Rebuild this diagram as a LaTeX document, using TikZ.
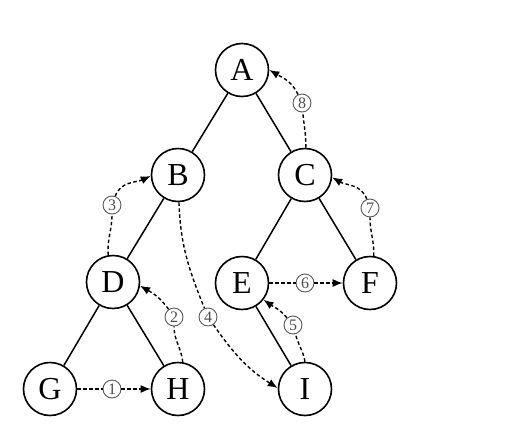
\documentclass[tikz,border=0pt]{standalone}
\usepackage{fontspec}
\setmainfont{Liberation Serif}
\usetikzlibrary{arrows.meta}
\begin{document}
\begin{tikzpicture}[x=1pt,y=-1pt,
  vtx/.style={circle,draw,line width=1.6pt,minimum size=53pt,inner sep=0pt,font=\fontsize{32}{32}\selectfont},
  tree/.style={line width=1.5pt},
  trav/.style={line width=1.4pt,dash pattern=on 3.5pt off 2.5pt,-{Latex[length=10pt,width=8pt]}},
  seg/.style={line width=1.4pt,dash pattern=on 3.5pt off 2.5pt},
  lbl/.style={circle,draw=gray!70!black,line width=0.9pt,fill=white,text=gray!60!black,minimum size=18pt,inner sep=0pt,font=\fontsize{16}{16}\selectfont}]
\useasboundingbox (0,0) rectangle (531,429);
\node[vtx] (A) at (242,70) {A};
\node[vtx] (B) at (178,175) {B};
\node[vtx] (C) at (305,175) {C};
\node[vtx] (D) at (113,282) {D};
\node[vtx] (E) at (242,283) {E};
\node[vtx] (F) at (370,283) {F};
\node[vtx] (G) at (50,389) {G};
\node[vtx] (H) at (178,389) {H};
\node[vtx] (I) at (305,389) {I};
\draw[tree] (A) -- (B);
\draw[tree] (A) -- (C);
\draw[tree] (B) -- (D);
\draw[tree] (C) -- (E);
\draw[tree] (C) -- (F);
\draw[tree] (D) -- (G);
\draw[tree] (D) -- (H);
\draw[tree] (E) -- (I);
\node[lbl] (l1) at (112,389) {1};
\node[lbl] (l2) at (174,317) {2};
\node[lbl] (l3) at (112,205) {3};
\node[lbl] (l4) at (208,317) {4};
\node[lbl] (l5) at (293,325) {5};
\node[lbl] (l6) at (305,283) {6};
\node[lbl] (l7) at (370,208) {7};
\node[lbl] (l8) at (302,103) {8};
% 1
\draw[seg] (G) -- (l1);
\draw[trav] (l1) -- (H);
% 2
\draw[seg] (H.80) to[out=95,in=-90] (l2);
\draw[trav] (l2) to[out=125,in=-30] (D.-8);
% 3
\draw[seg] (D.100) to[out=95,in=-90] (l3);
\draw[trav] (l3) to[out=70,in=205] (B.182);
% 4
\draw[seg] (B.-88) to[out=-88,in=112] (l4);
\draw[trav] (l4) to[out=-55,in=148] (I.178);
% 5
\draw[seg] (I.90) to[out=100,in=-75] (l5);
\draw[trav] (l5) to[out=130,in=-35] (E.-38);
% 6
\draw[seg] (E) -- (l6);
\draw[trav] (l6) -- (F);
% 7
\draw[seg] (F.82) to[out=88,in=-90] (l7);
\draw[trav] (l7) to[out=110,in=-30] (C.-5);
% 8
\draw[seg] (C.88) to[out=90,in=-85] (l8);
\draw[trav] (l8) to[out=115,in=-30] (A.0);
\end{tikzpicture}
\end{document}
